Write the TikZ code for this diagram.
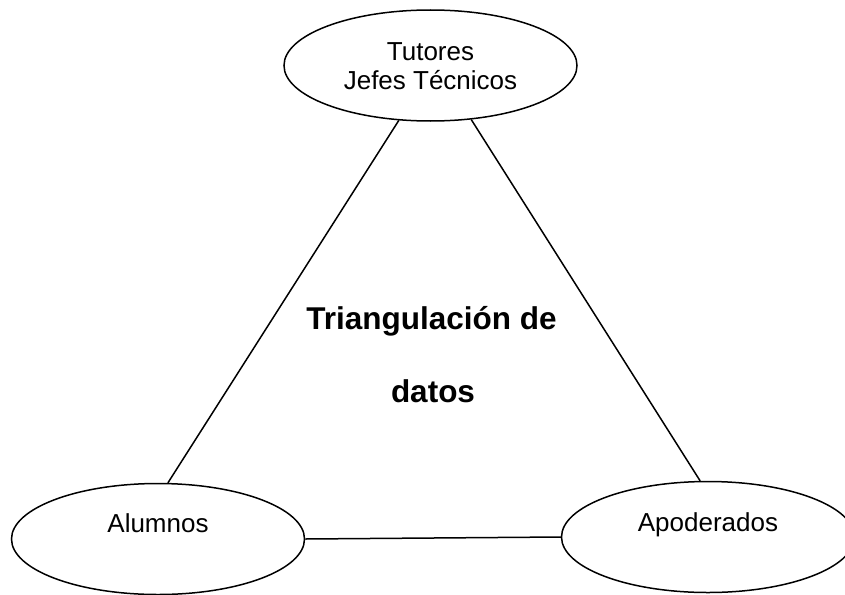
\documentclass[tikz,border=0pt]{standalone}
\usepackage{fontspec}
\setmainfont{Liberation Sans}
\usetikzlibrary{shapes.geometric}
\begin{document}
\begin{tikzpicture}[x=1pt,y=-1pt,
  oval/.style={draw,ellipse,line width=1.5pt,minimum width=293pt,minimum height=111pt,inner sep=0pt},
  lbl/.style={inner sep=0pt,anchor=base,font=\fontsize{26}{29}\selectfont},
  ttl/.style={inner sep=0pt,anchor=base,font=\fontsize{31.5}{36}\selectfont\bfseries},
  link/.style={line width=1.5pt}]
\useasboundingbox (0,0) rectangle (845,594);
\node[oval] (top) at (430.5,65.5) {};
\node[oval] (bl) at (158,539) {};
\node[oval] (br) at (708,537) {};
\node[lbl] (t1) at (430.5,60) {Tutores};
\node[lbl] (t2) at (430.5,89) {Jefes Técnicos};
\node[lbl] (al) at (158,532) {Alumnos};
\node[lbl] (ap) at (708,531) {Apoderados};
\node[ttl] (tr1) at (431.5,329) {Triangulación de};
\node[ttl] (tr2) at (433,402) {datos};
\draw[link] (top.240) -- (bl.80);
\draw[link] (top.307) -- (br.98);
\draw[link] (bl.east) -- (br.west);
\end{tikzpicture}
\end{document}
